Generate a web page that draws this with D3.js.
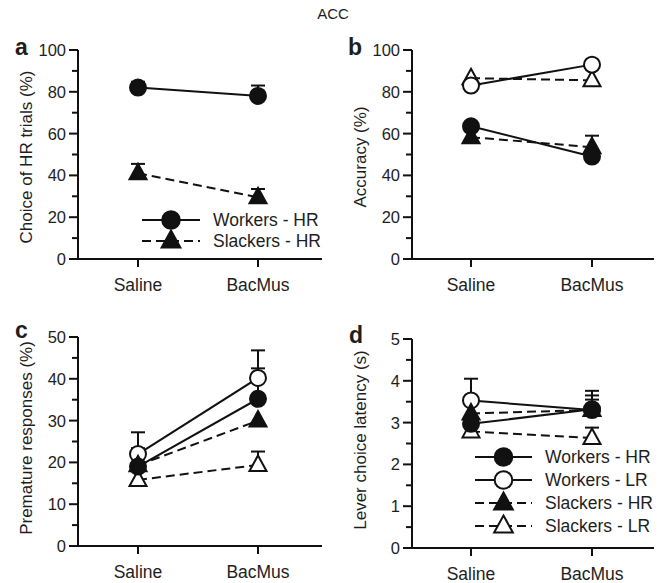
<!DOCTYPE html>
<html>
<head>
<meta charset="utf-8">
<script src="https://cdn.jsdelivr.net/npm/d3@7"></script>
<style>
  body { margin: 0; background: #fff; }
  svg text { font-family: "Liberation Sans", Arial, sans-serif; fill: #1e1e1e; }
  .axis-line { stroke: #111; stroke-width: 2; fill: none; }
</style>
</head>
<body>
<svg id="chart" width="667" height="583"></svg>
<script>
// ---- data ----
const categories = ["Saline", "BacMus"];

// a: choice of HR trials (%)
const choiceWorkersHR = [82, 78];
const choiceWorkersHRSem = [2.8, 5];
const choiceSlackersHR = [41, 29.5];
const choiceSlackersHRSem = [4.5, 4];

// b: accuracy (%)
const accWorkersHR = [63.5, 49];
const accWorkersHRSem = [null, null];
const accWorkersLR = [83, 93];
const accWorkersLRSem = [null, null];
const accSlackersHR = [58.3, 53.5];
const accSlackersHRSem = [null, 5.5];
const accSlackersLR = [86.5, 85.5];
const accSlackersLRSem = [null, null];

// c: premature responses (%)
const premWorkersHR = [19, 35.2];
const premWorkersHRSem = [4.4, 7.3];
const premWorkersLR = [22, 40.2];
const premWorkersLRSem = [5.2, 6.6];
const premSlackersHR = [19.3, 30];
const premSlackersHRSem = [null, null];
const premSlackersLR = [15.8, 19.4];
const premSlackersLRSem = [null, 3.2];

// d: lever choice latency (s)
const latWorkersHR = [2.97, 3.32];
const latWorkersHRSem = [null, 0.44];
const latWorkersLR = [3.53, 3.3];
const latWorkersLRSem = [0.52, 0.35];
const latSlackersHR = [3.22, 3.3];
const latSlackersHRSem = [null, 0.25];
const latSlackersLR = [2.79, 2.63];
const latSlackersLRSem = [null, 0.25];

const yTicksA = [0, 20, 40, 60, 80, 100];
const yTicksC = [0, 10, 20, 30, 40, 50];
const yTicksD = [0, 1, 2, 3, 4, 5];

// series styles
const styles = {
  "Workers - HR": { shape: "circle", filled: true, dashed: false },
  "Workers - LR": { shape: "circle", filled: false, dashed: false },
  "Slackers - HR": { shape: "triangle", filled: true, dashed: true },
  "Slackers - LR": { shape: "triangle", filled: false, dashed: true }
};

const svg = d3.select("#chart");

svg.append("text")
  .attr("x", 333).attr("y", 19)
  .attr("text-anchor", "middle")
  .attr("font-size", 15)
  .text("ACC");

function drawMarker(g, shape, filled, cx, cy, scale) {
  const s = scale || 1;
  if (shape === "circle") {
    g.append("circle")
      .attr("cx", cx).attr("cy", cy)
      .attr("r", 8 * s)
      .attr("fill", filled ? "#111" : "#fff")
      .attr("stroke", "#111")
      .attr("stroke-width", 2);
  } else {
    const w = 8.5 * s, top = 9.5 * s, bot = 6 * s;
    g.append("path")
      .attr("d", `M${cx},${cy - top}L${cx + w},${cy + bot}L${cx - w},${cy + bot}Z`)
      .attr("fill", filled ? "#111" : "#fff")
      .attr("stroke", "#111")
      .attr("stroke-width", 2)
      .attr("stroke-linejoin", "miter");
  }
}

function drawPanel(p) {
  const g = svg.append("g");

  const x = d3.scalePoint().domain(categories).range(p.catRange);
  const y = d3.scaleLinear().domain(p.domain).range([p.yBottom, p.yTop]);

  // axes
  g.append("line").attr("class", "axis-line")
    .attr("x1", p.axisX).attr("x2", p.axisX)
    .attr("y1", p.yTop).attr("y2", p.yBottom + 1);
  g.append("line").attr("class", "axis-line")
    .attr("x1", p.axisX - 1).attr("x2", p.xEnd)
    .attr("y1", p.yBottom).attr("y2", p.yBottom);

  // y ticks, major and minor
  const step = p.ticks[1] - p.ticks[0];
  p.ticks.forEach((t, i) => {
    g.append("line").attr("class", "axis-line")
      .attr("x1", p.axisX - 9).attr("x2", p.axisX)
      .attr("y1", y(t)).attr("y2", y(t));
    g.append("text")
      .attr("x", p.axisX - 12).attr("y", y(t) + 6)
      .attr("text-anchor", "end")
      .attr("font-size", 16.5)
      .text(t);
    if (i < p.ticks.length - 1) {
      const m = t + step / 2;
      g.append("line").attr("class", "axis-line")
        .attr("x1", p.axisX - 6).attr("x2", p.axisX)
        .attr("y1", y(m)).attr("y2", y(m));
    }
  });

  // x ticks
  categories.forEach((c) => {
    g.append("line").attr("class", "axis-line")
      .attr("x1", x(c)).attr("x2", x(c))
      .attr("y1", p.yBottom).attr("y2", p.yBottom + 8);
    g.append("text")
      .attr("x", x(c)).attr("y", p.yBottom + 32)
      .attr("text-anchor", "middle")
      .attr("font-size", 17.5)
      .text(c);
  });

  // y axis title
  g.append("text")
    .attr("transform", `translate(${p.titleX},${p.titleY}) rotate(-90)`)
    .attr("text-anchor", "middle")
    .attr("font-size", 17)
    .text(p.yTitle);

  // panel letter
  g.append("text")
    .attr("x", p.letterX).attr("y", p.letterY)
    .attr("font-size", 23)
    .attr("font-weight", "bold")
    .text(p.letter);

  // lines
  p.series.forEach((s) => {
    const st = styles[s.name];
    g.append("path")
      .datum(s.values)
      .attr("d", d3.line().x((d, i) => x(categories[i])).y((d) => y(d)))
      .attr("fill", "none")
      .attr("stroke", "#111")
      .attr("stroke-width", 2)
      .attr("stroke-dasharray", st.dashed ? "9,5" : null);
  });

  // error bars (upper only)
  p.series.forEach((s) => {
    s.values.forEach((v, i) => {
      const e = s.sem[i];
      if (e == null) return;
      const cx = x(categories[i]);
      g.append("line").attr("class", "axis-line")
        .attr("x1", cx).attr("x2", cx)
        .attr("y1", y(v)).attr("y2", y(v + e));
      g.append("line").attr("class", "axis-line")
        .attr("x1", cx - 7).attr("x2", cx + 7)
        .attr("y1", y(v + e)).attr("y2", y(v + e));
    });
  });

  // markers
  p.series.forEach((s) => {
    const st = styles[s.name];
    s.values.forEach((v, i) => {
      drawMarker(g, st.shape, st.filled, x(categories[i]), y(v));
    });
  });

  // legend
  if (p.legend) {
    p.legend.names.forEach((name, i) => {
      const st = styles[name];
      const ly = p.legend.y + i * p.legend.dy;
      g.append("line")
        .attr("x1", p.legend.x1).attr("x2", p.legend.x2)
        .attr("y1", ly).attr("y2", ly)
        .attr("stroke", "#111")
        .attr("stroke-width", 2)
        .attr("stroke-dasharray", st.dashed ? "9,5" : null);
      drawMarker(g, st.shape, st.filled, (p.legend.x1 + p.legend.x2) / 2, ly, 1.1);
      g.append("text")
        .attr("x", p.legend.x2 + 13).attr("y", ly + 6)
        .attr("font-size", 17.5)
        .text(name);
    });
  }
}

drawPanel({
  letter: "a", letterX: 15, letterY: 55,
  axisX: 78, xEnd: 322, yTop: 50, yBottom: 259, catRange: [138, 258],
  domain: [0, 100], ticks: yTicksA,
  yTitle: "Choice of HR trials (%)", titleX: 32, titleY: 157,
  series: [
    { name: "Slackers - HR", values: choiceSlackersHR, sem: choiceSlackersHRSem },
    { name: "Workers - HR", values: choiceWorkersHR, sem: choiceWorkersHRSem }
  ],
  legend: { names: ["Workers - HR", "Slackers - HR"], x1: 142, x2: 200, y: 220, dy: 21 }
});

drawPanel({
  letter: "b", letterX: 348, letterY: 55,
  axisX: 412, xEnd: 654, yTop: 50, yBottom: 259, catRange: [471, 592],
  domain: [0, 100], ticks: yTicksA,
  yTitle: "Accuracy (%)", titleX: 366, titleY: 157,
  series: [
    { name: "Slackers - LR", values: accSlackersLR, sem: accSlackersLRSem },
    { name: "Workers - LR", values: accWorkersLR, sem: accWorkersLRSem },
    { name: "Slackers - HR", values: accSlackersHR, sem: accSlackersHRSem },
    { name: "Workers - HR", values: accWorkersHR, sem: accWorkersHRSem }
  ]
});

drawPanel({
  letter: "c", letterX: 15, letterY: 338,
  axisX: 78, xEnd: 322, yTop: 337, yBottom: 546, catRange: [138, 258],
  domain: [0, 50], ticks: yTicksC,
  yTitle: "Premature responses (%)", titleX: 32, titleY: 438,
  series: [
    { name: "Slackers - LR", values: premSlackersLR, sem: premSlackersLRSem },
    { name: "Workers - LR", values: premWorkersLR, sem: premWorkersLRSem },
    { name: "Slackers - HR", values: premSlackersHR, sem: premSlackersHRSem },
    { name: "Workers - HR", values: premWorkersHR, sem: premWorkersHRSem }
  ]
});

drawPanel({
  letter: "d", letterX: 349, letterY: 343,
  axisX: 412, xEnd: 654, yTop: 339, yBottom: 548, catRange: [471, 592],
  domain: [0, 5], ticks: yTicksD,
  yTitle: "Lever choice latency (s)", titleX: 366, titleY: 440,
  series: [
    { name: "Slackers - LR", values: latSlackersLR, sem: latSlackersLRSem },
    { name: "Workers - LR", values: latWorkersLR, sem: latWorkersLRSem },
    { name: "Slackers - HR", values: latSlackersHR, sem: latSlackersHRSem },
    { name: "Workers - HR", values: latWorkersHR, sem: latWorkersHRSem }
  ],
  legend: {
    names: ["Workers - HR", "Workers - LR", "Slackers - HR", "Slackers - LR"],
    x1: 475, x2: 532, y: 457, dy: 23
  }
});
</script>
</body>
</html>
